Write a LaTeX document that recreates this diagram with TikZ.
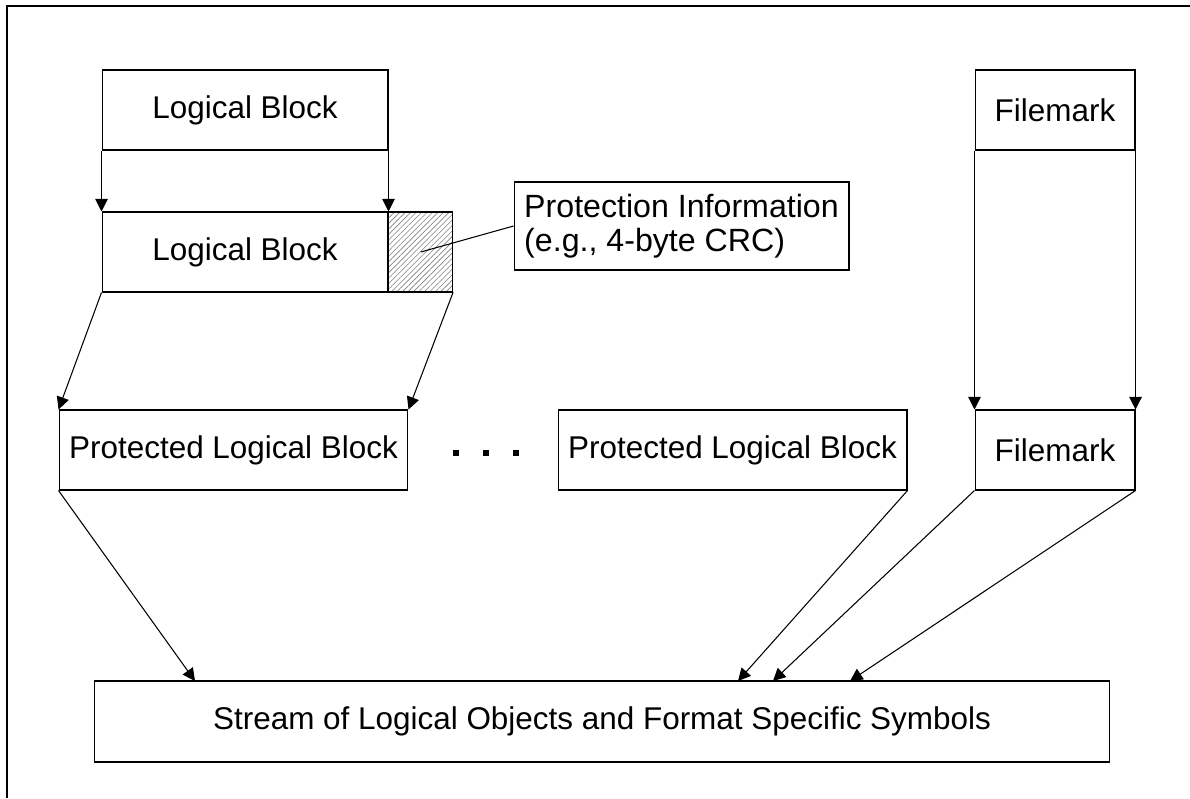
\documentclass[tikz,border=0pt]{standalone}
\usepackage{fontspec}
\setmainfont{Liberation Sans}
\usetikzlibrary{shapes,arrows.meta,positioning,patterns.meta}

\begin{document}
\begin{tikzpicture}[x=0.02cm,y=-0.02cm,line width=0.6pt,
font=\fontsize{17.9}{21.5}\selectfont,
block/.style={rectangle, draw, minimum width=5.72cm, minimum height=1.6cm, inner sep=0pt},
protected/.style={block, minimum width=6.98cm},
filemark/.style={block, minimum width=3.2cm},
crc/.style={rectangle, draw, minimum width=1.28cm, minimum height=1.6cm, inner sep=0pt,
  pattern={Lines[angle=45,distance=2.2pt,line width=0.35pt]}, pattern color=gray},
note/.style={rectangle, draw, minimum width=6.7cm, minimum height=1.76cm, align=left, inner sep=0pt,
  font=\fontsize{18.3}{19.5}\selectfont},
link/.style={-{Triangle[length=0.25cm,width=0.25cm]}},
]
\useasboundingbox (0,0) rectangle (1190,798);

% Rahmen
\draw (1190,6) -- (7,6) -- (7,798);

% Logische Bloecke
\node[block] (lb) at (245,110) {Logical Block};
\node[block] (lbp) at (245,252) {Logical Block};
\node[crc, right=0pt of lbp] (pi) {};
\node[note] (info) at (681.5,226) {Protection Information\\(e.g., 4-byte CRC)};

% Filemarks
\node[filemark] (fm) at (1055,110) {Filemark};
\node[filemark] (fmp) at (1055,450) {Filemark};

% Geschuetzte Bloecke
\node[protected] (plb) at (233.5,450) {Protected Logical Block};
\node[protected] (plbn) at (732.5,450) {Protected Logical Block};
\foreach \x in {456,486,516}
  \fill (\x-3,450) rectangle (\x+3,456);

% Datenstrom
\node[block, minimum width=20.32cm, minimum height=1.62cm] (stream) at (602,721.5)
  {Stream of Logical Objects and Format Specific Symbols};
\coordinate (s1) at (195,681);
\coordinate (s2) at (738,681);
\coordinate (s3) at (773,681);
\coordinate (s4) at (850,681);

% Verbindungen
\draw[link] (lb.south west) -- (lbp.north west);
\draw[link] (lb.south east) -- (lbp.north east);
\draw (pi.center) -- (info.west);
\draw[link] (lbp.south west) -- (plb.north west);
\draw[link] (pi.south east) -- (plb.north east);
\draw[link] (fm.south west) -- (fmp.north west);
\draw[link] (fm.south east) -- (fmp.north east);
\draw[link] (plb.south west) -- (s1);
\draw[link] (plbn.south east) -- (s2);
\draw[link] (fmp.south west) -- (s3);
\draw[link] (fmp.south east) -- (s4);

\end{tikzpicture}
\end{document}
